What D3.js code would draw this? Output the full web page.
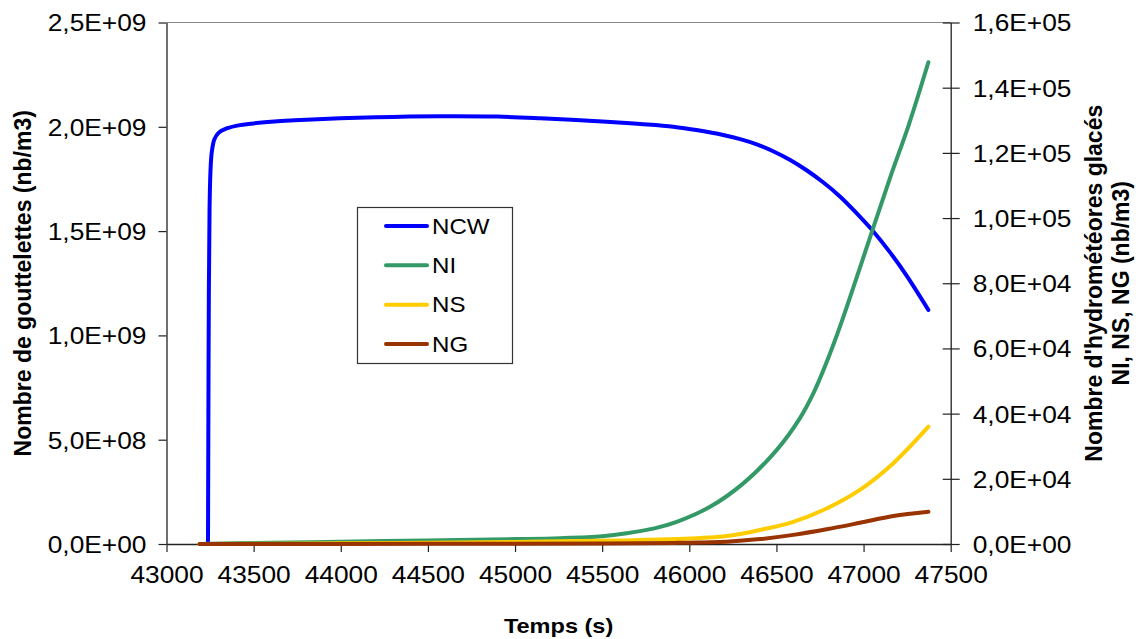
<!DOCTYPE html>
<html>
<head>
<meta charset="utf-8">
<script src="https://cdn.jsdelivr.net/npm/d3@7"></script>
<style>
  html, body { margin: 0; padding: 0; background: #fff; }
  svg { display: block; }
  text { font-family: "Liberation Sans", Arial, sans-serif; fill: #000; }
</style>
</head>
<body>
<svg id="chart" width="1144" height="639"></svg>
<script>
// ---- data ----
const xTicks = [43000, 43500, 44000, 44500, 45000, 45500, 46000, 46500, 47000, 47500];
const leftTicks = [0, 5e8, 1e9, 1.5e9, 2e9, 2.5e9];
const rightTicks = [0, 2e4, 4e4, 6e4, 8e4, 1e5, 1.2e5, 1.4e5, 1.6e5];

const ncwTime  = [43238, 43240, 43243, 43247, 43252, 43260, 43275, 43300, 43345, 43422, 43600, 43804, 44200, 44569, 44900, 45144, 45526, 45720, 45908, 46050, 46194, 46292, 46387, 46481, 46579, 46671, 46768, 46866, 46961, 47055, 47153, 47245, 47372];
const ncwValue = [0, 0.5e9, 1.2e9, 1.6e9, 1.78e9, 1.88e9, 1.94e9, 1.972e9, 1.992e9, 2.008e9, 2.024e9, 2.034e9, 2.046e9, 2.051e9, 2.049e9, 2.041e9, 2.024e9, 2.013e9, 2.0e9, 1.983e9, 1.961e9, 1.941e9, 1.916e9, 1.883e9, 1.841e9, 1.793e9, 1.734e9, 1.665e9, 1.585e9, 1.4995e9, 1.397e9, 1.289e9, 1.122e9];

const niTime  = [43190, 43500, 44000, 44500, 45000, 45258, 45500, 45641, 45800, 45928, 46119, 46310, 46501, 46636, 46711, 46789, 46866, 46980, 47153, 47260, 47372];
const niValue = [0, 300, 700, 1100, 1500, 1800, 2400, 3300, 4800, 6800, 11400, 18600, 28800, 38700, 46100, 55900, 66900, 84900, 112500, 128700, 147800];

const nsTime  = [43190, 44000, 44500, 45000, 45258, 45600, 45928, 46214, 46405, 46597, 46788, 46979, 47171, 47372];
const nsValue = [0, 200, 400, 600, 850, 1100, 1500, 2450, 4300, 6800, 10900, 16600, 24800, 36000];

const ngTime  = [43190, 44500, 45500, 45928, 46214, 46405, 46597, 46788, 46979, 47171, 47372];
const ngValue = [0, 50, 150, 350, 700, 1500, 2800, 4500, 6500, 8600, 9900];

const seriesNames = ["NCW", "NI", "NS", "NG"];
const seriesColors = ["#0000FF", "#339966", "#FFCC00", "#993300"];

// ---- layout ----
const svg = d3.select("#chart");
const L = 166.5, R = 950.7, T = 22.5, B = 544;
const STRETCH = 1.12;

const x = d3.scaleLinear().domain([43000, 47500]).range([L, R]);
const yL = d3.scaleLinear().domain([0, 2.5e9]).range([B, T]);
const yR = d3.scaleLinear().domain([0, 1.6e5]).range([B, T]);

function sci(v) {
  if (v === 0) return "0,0E+00";
  const e = Math.floor(Math.log10(Math.abs(v)) + 1e-9);
  const m = v / Math.pow(10, e);
  const es = (e < 0 ? "-" : "+") + String(Math.abs(e)).padStart(2, "0");
  return m.toFixed(1).replace(".", ",") + "E" + es;
}

// top border
svg.append("line").attr("x1", L).attr("x2", R).attr("y1", T).attr("y2", T)
  .attr("stroke", "#888").attr("stroke-width", 1.2);

// axes
const gx = svg.append("g").attr("transform", `translate(0,${B})`)
  .call(d3.axisBottom(x).tickValues(xTicks).tickSize(8).tickSizeOuter(0).tickPadding(14).tickFormat(d3.format("d")));
const gl = svg.append("g").attr("transform", `translate(${L},0)`)
  .call(d3.axisLeft(yL).tickValues(leftTicks).tickSize(8).tickSizeOuter(0).tickPadding(12).tickFormat(sci));
const gr = svg.append("g").attr("transform", `translate(${R},0)`)
  .call(d3.axisRight(yR).tickValues(rightTicks).tickSize(9).tickSizeOuter(0).tickPadding(13).tickFormat(sci));
gr.selectAll(".tick line").attr("x1", -8);

[gx, gl, gr].forEach(g => {
  g.select(".domain").attr("stroke", "#222").attr("stroke-width", 1.3);
  g.selectAll(".tick line").attr("stroke", "#222").attr("stroke-width", 1.2);
  g.selectAll(".tick text").attr("font-size", 23.5).attr("font-family", "Liberation Sans, Arial, sans-serif").attr("fill", "#000");
});
gl.selectAll(".tick text").attr("dy", "0.36em");
gr.selectAll(".tick text").attr("dy", "0.36em");
gx.selectAll(".tick text").attr("dy", "0.71em");

// lines
function drawSeries(times, values, scale, color) {
  const pts = times.map((t, i) => [t, values[i]]);
  const line = d3.line().x(d => x(d[0])).y(d => scale(d[1])).curve(d3.curveCatmullRom.alpha(0.5));
  svg.append("path").datum(pts).attr("d", line)
    .attr("fill", "none").attr("stroke", color).attr("stroke-width", 4)
    .attr("stroke-linecap", "round").attr("stroke-linejoin", "round");
}
drawSeries(ncwTime, ncwValue, yL, seriesColors[0]);
drawSeries(niTime, niValue, yR, seriesColors[1]);
drawSeries(nsTime, nsValue, yR, seriesColors[2]);
drawSeries(ngTime, ngValue, yR, seriesColors[3]);

// legend
const lg = svg.append("g");
lg.append("rect").attr("x", 357.5).attr("y", 207.5).attr("width", 155).attr("height", 156)
  .attr("fill", "#fff").attr("stroke", "#333").attr("stroke-width", 1.2);
const legendY = d3.scalePoint().domain(seriesNames).range([226, 344]);
seriesNames.forEach((n, i) => {
  const yy = legendY(n);
  lg.append("line").attr("x1", 386).attr("x2", 427).attr("y1", yy).attr("y2", yy)
    .attr("stroke", seriesColors[i]).attr("stroke-width", 4).attr("stroke-linecap", "round");
  lg.append("text").attr("class", "stretch").attr("x", 432).attr("y", yy).attr("dy", "0.36em")
    .attr("font-size", 21.5).text(n);
});

// titles
svg.append("text").attr("class", "stretch").attr("x", (L + R) / 2).attr("y", 633)
  .attr("text-anchor", "middle").attr("font-size", 21).attr("font-weight", "bold").text("Temps (s)");
svg.append("text").attr("transform", `translate(23,${(T + B) / 2}) rotate(-90)`)
  .attr("text-anchor", "middle").attr("dy", "0.36em").attr("font-size", 23).attr("font-weight", "bold")
  .text("Nombre de gouttelettes (nb/m3)");
svg.append("text").attr("transform", `translate(1094,${(T + B) / 2}) rotate(-90)`)
  .attr("text-anchor", "middle").attr("dy", "0.36em").attr("font-size", 23).attr("font-weight", "bold")
  .text("Nombre d'hydrométéores glacés");
svg.append("text").attr("transform", `translate(1121,${(T + B) / 2}) rotate(-90)`)
  .attr("text-anchor", "middle").attr("dy", "0.36em").attr("font-size", 23).attr("font-weight", "bold")
  .text("NI, NS, NG (nb/m3)");

// horizontal stretch of horizontal text to match reference proportions
svg.selectAll(".tick text, text.stretch").each(function () {
  const len = this.getComputedTextLength();
  d3.select(this).attr("textLength", len * STRETCH).attr("lengthAdjust", "spacingAndGlyphs");
});
</script>
</body>
</html>
